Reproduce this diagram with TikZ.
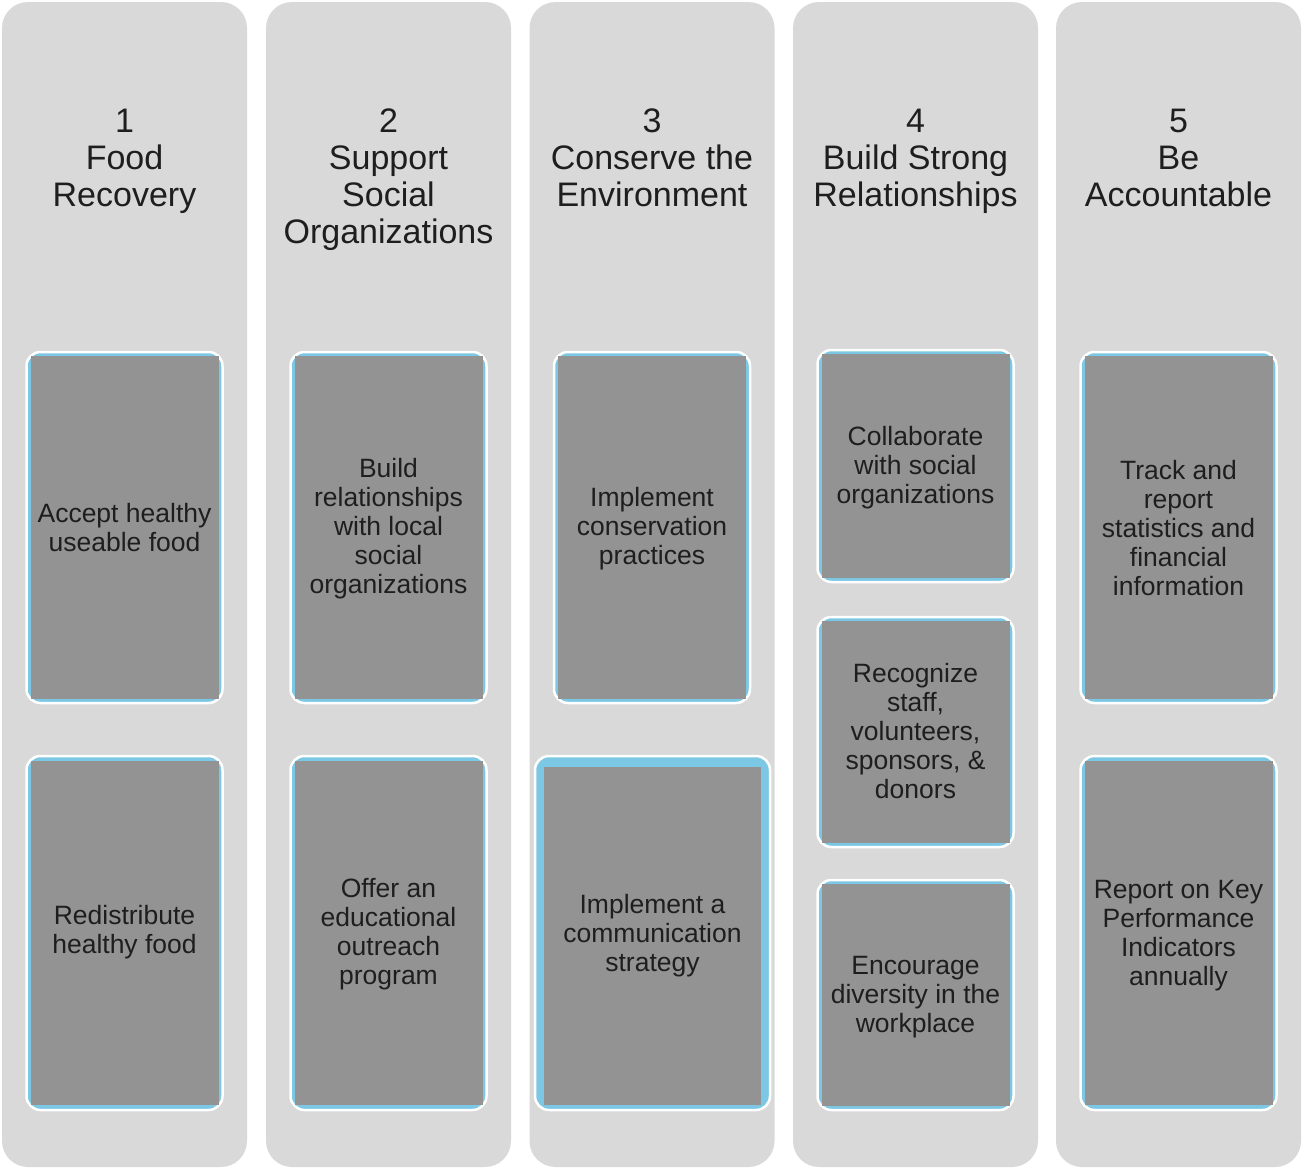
\documentclass[tikz,border=0pt]{standalone}
\usepackage{fontspec}
\setmainfont{Liberation Sans}
\definecolor{colfill}{HTML}{D9D9D9}
\definecolor{boxgray}{HTML}{939393}
\definecolor{boxblue}{HTML}{7CC8E4}
\definecolor{txt}{HTML}{1E1E1E}
\begin{document}
\begin{tikzpicture}[x=1pt,y=-1pt,
  column/.style={fill=colfill, draw=none, rounded corners=26pt},
  head/.style={anchor=north, align=center, inner sep=0pt, text=txt, font=\fontsize{34}{37}\selectfont},
  outerbox/.style={draw=white, line width=2.5pt, fill=boxblue, rounded corners=14pt, inner sep=0pt},
  graybox/.style={fill=boxgray, draw=none, inner sep=0pt},
  boxtext/.style={inner sep=0pt, align=center, text=txt, font=\fontsize{26.5}{29}\selectfont}
]
\useasboundingbox (0,0) rectangle (1302,1170);
\fill[white] (0,0) rectangle (1302,1170);
% columns
\foreach \c/\x in {1/124.5,2/388.5,3/652,4/915.5,5/1178.5}{
  \path[column] (\x-122.5,2) rectangle (\x+122.5,1167);
}
% headings
\node[head] (h1) at (124.5,109) {1\\Food\\Recovery};
\node[head] (h2) at (388.5,109) {2\\Support\\Social\\Organizations};
\node[head] (h3) at (652,109) {3\\Conserve the\\Environment};
\node[head] (h4) at (915.5,109) {4\\Build Strong\\Relationships};
\node[head] (h5) at (1178.5,109) {5\\Be\\Accountable};
% column 1
\node[outerbox, minimum width=196pt, minimum height=351pt] (o11) at (124.5,527.5) {};
\node[graybox, minimum width=188pt, minimum height=343pt] (b11) at (124.5,527.5) {};
\node[boxtext] (t11) at (124.5,527.5) {Accept healthy\\useable food};
\node[outerbox, minimum width=196pt, minimum height=354pt] (o12) at (124.5,933) {};
\node[graybox, minimum width=188pt, minimum height=344pt] (b12) at (124.5,933) {};
\node[boxtext] (t12) at (124.5,932) {Redistribute\\healthy food};
% column 2
\node[outerbox, minimum width=196pt, minimum height=351pt] (o21) at (388.5,527.5) {};
\node[graybox, minimum width=188pt, minimum height=343pt] (b21) at (388.5,527.5) {};
\node[boxtext] (t21) at (388.5,529) {Build\\relationships\\with local\\social\\organizations};
\node[outerbox, minimum width=196pt, minimum height=354pt] (o22) at (388.5,933) {};
\node[graybox, minimum width=188pt, minimum height=344pt] (b22) at (388.5,933) {};
\node[boxtext] (t22) at (388.5,934) {Offer an\\educational\\outreach\\program};
% column 3
\node[outerbox, minimum width=196pt, minimum height=351pt] (o31) at (652,527.5) {};
\node[graybox, minimum width=188pt, minimum height=343pt] (b31) at (652,527.5) {};
\node[boxtext] (t31) at (652,529) {Implement\\conservation\\practices};
\node[outerbox, minimum width=235pt, minimum height=354pt] (o32) at (652.5,933) {};
\node[graybox, minimum width=217pt, minimum height=338pt] (b32) at (652.5,936) {};
\node[boxtext] (t32) at (652.5,936) {Implement a\\communication\\strategy};
% column 4
\node[outerbox, minimum width=196pt, minimum height=232pt] (o41) at (915.5,466) {};
\node[graybox, minimum width=188pt, minimum height=224pt] (b41) at (915.5,466) {};
\node[boxtext] (t41) at (915.5,468) {Collaborate\\with social\\organizations};
\node[outerbox, minimum width=196pt, minimum height=230pt] (o42) at (915.5,732) {};
\node[graybox, minimum width=188pt, minimum height=222pt] (b42) at (915.5,732) {};
\node[boxtext] (t42) at (915.5,731) {Recognize\\staff,\\volunteers,\\sponsors, \&\\donors};
\node[outerbox, minimum width=196pt, minimum height=230pt] (o43) at (915.5,995) {};
\node[graybox, minimum width=188pt, minimum height=222pt] (b43) at (915.5,995) {};
\node[boxtext] (t43) at (915.5,997) {Encourage\\diversity in the\\workplace};
% column 5
\node[outerbox, minimum width=196pt, minimum height=351pt] (o51) at (1178.5,527.5) {};
\node[graybox, minimum width=188pt, minimum height=343pt] (b51) at (1178.5,527.5) {};
\node[boxtext] (t51) at (1178.5,528) {Track and\\report\\statistics and\\financial\\information};
\node[outerbox, minimum width=196pt, minimum height=354pt] (o52) at (1178.5,933) {};
\node[graybox, minimum width=188pt, minimum height=344pt] (b52) at (1178.5,933) {};
\node[boxtext] (t52) at (1178.5,936) {Report on Key\\Performance\\Indicators\\annually};
\end{tikzpicture}
\end{document}
